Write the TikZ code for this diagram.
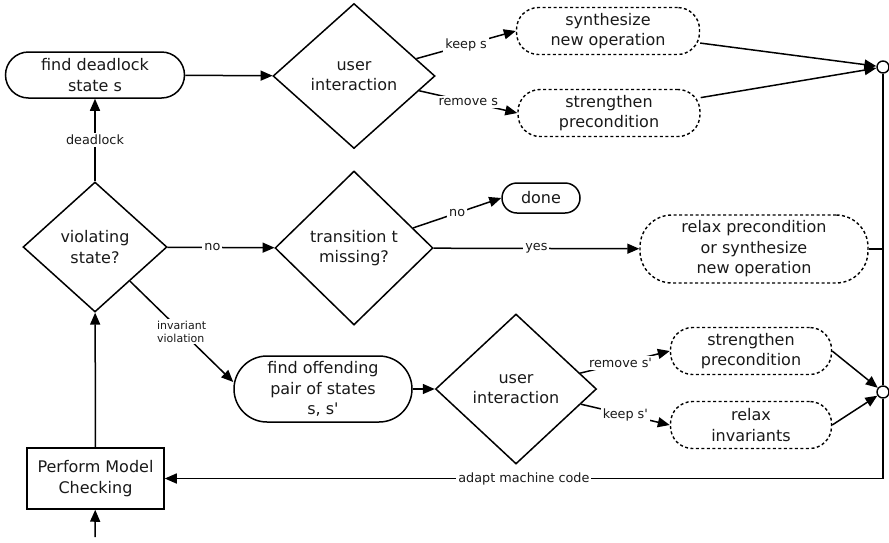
\documentclass[tikz,border=0pt]{standalone}
\usepackage{fontspec}
\setmainfont{DejaVu Sans}
\usetikzlibrary{shapes.geometric,arrows.meta}

\begin{document}
\begin{tikzpicture}[x=1pt,y=-1pt,
  every node/.style={font=\fontsize{16}{20.5}\selectfont, align=center, text=black!90},
  pill/.style={draw, line width=1.5pt},
  dashbox/.style={draw, line width=1.4pt, dash pattern=on 3pt off 2.5pt},
  decision/.style={diamond, draw, line width=1.5pt, inner sep=0pt, aspect=1},
  junction/.style={circle, draw, line width=1.4pt, fill=white, minimum size=12pt, inner sep=0pt},
  flow/.style={line width=1.5pt, -{Triangle[length=12pt,width=10pt]}},
  link/.style={line width=1.5pt},
  lbl/.style={font=\fontsize{12.8}{15}\selectfont, fill=white, inner sep=2pt},
  smalllbl/.style={font=\fontsize{11}{13}\selectfont, fill=white, inner sep=1.5pt, align=left}
]
\useasboundingbox (0,0) rectangle (889,542);

% upper branch: deadlock handling
\node[pill, minimum width=179pt, minimum height=46pt, rounded corners=23pt] (fd) at (95,75) {find deadlock\\state s};
\node[decision, minimum width=162pt, minimum height=145pt] (ui1) at (354,76) {user\\interaction};
\node[dashbox, minimum width=183pt, minimum height=47pt, rounded corners=22pt] (syn) at (608,31) {synthesize\\new operation};
\node[dashbox, minimum width=182pt, minimum height=47pt, rounded corners=22pt] (str1) at (609,113) {strengthen\\precondition};
\node[junction] (c1) at (883,67) {};

% middle row
\node[decision, minimum width=144pt, minimum height=130pt] (vs) at (95,247) {violating\\state?};
\node[decision, minimum width=158pt, minimum height=154pt] (tm) at (354,248) {transition t\\missing?};
\node[pill, minimum width=78pt, minimum height=30pt, rounded corners=15pt] (done) at (541,198) {done};
\node[dashbox, minimum width=228pt, minimum height=68pt, rounded corners=32pt] (rp) at (754,249) {relax precondition\\or synthesize\\new operation};

% lower branch: invariant violation handling
\node[pill, minimum width=178pt, minimum height=66pt, rounded corners=33pt] (off) at (323,389) {find offending\\pair of states\\s, s\textquotesingle};
\node[decision, minimum width=161pt, minimum height=150pt] (ui2) at (516,389) {user\\interaction};
\node[dashbox, minimum width=161pt, minimum height=47pt, rounded corners=22pt] (str2) at (751,351) {strengthen\\precondition};
\node[dashbox, minimum width=161pt, minimum height=47pt, rounded corners=22pt] (ri) at (751,425) {relax\\invariants};
\node[junction] (c2) at (883,392) {};

% model checking step
\node[draw, line width=1.5pt, minimum width=137pt, minimum height=61pt] (pmc) at (95.5,478.5) {Perform Model\\Checking};
\coordinate (start) at (95,537);

% connectors
\draw[flow] (start) -- (pmc);
\draw[flow] (pmc) -- (vs);
\draw[flow] (vs) -- node[lbl]{deadlock} (fd);
\draw[flow] (fd) -- (ui1);
\draw[flow] (ui1) -- node[lbl]{keep s} (syn.west);
\draw[flow] (ui1) -- node[lbl]{remove s} (str1.west);
\draw[flow] (syn) -- (c1);
\draw[flow] (str1) -- (c1);

\draw[flow] (vs) -- node[lbl, pos=0.42]{no} (tm);
\draw[flow] (tm) -- node[lbl]{no} (done.west);
\draw[flow] (tm) -- node[lbl]{yes} (rp);
\draw[link] (rp.east) -- (rp.east -| c1);

\draw[flow] (vs) -- node[smalllbl]{invariant\\violation} ([yshift=7pt]off.west);
\draw[flow] (off) -- (ui2);
\draw[flow] (ui2) -- node[lbl, pos=0.45]{remove s\textquotesingle} (str2.west);
\draw[flow] (ui2) -- node[lbl]{keep s\textquotesingle} (ri.west);
\draw[flow] (str2.east) -- (c2);
\draw[flow] (ri.east) -- (c2);

\draw[link] (c1) -- (c2);
\draw[flow] (c2) |- node[lbl, pos=0.75]{adapt machine code} (pmc);
\end{tikzpicture}
\end{document}
